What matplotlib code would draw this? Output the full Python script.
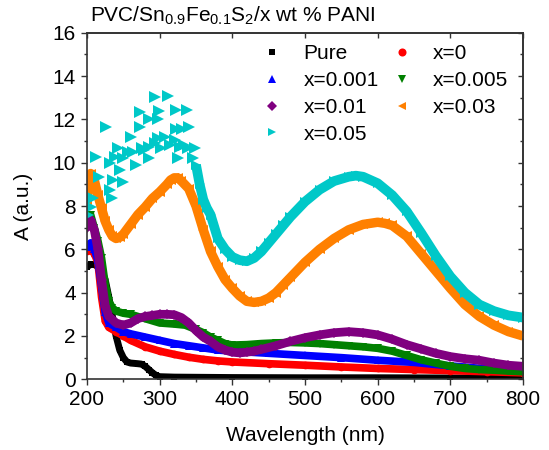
import matplotlib
matplotlib.use("Agg")
import matplotlib.pyplot as plt
from matplotlib.lines import Line2D
from matplotlib.ticker import MultipleLocator

plt.rcParams["font.family"] = ["Liberation Sans", "DejaVu Sans"]
plt.rcParams["mathtext.fontset"] = "custom"
plt.rcParams["mathtext.rm"] = "Liberation Sans"
plt.rcParams["mathtext.it"] = "Liberation Sans"

# ── data ─────────────────────────────────────────────────────────
pure_wl = [200, 205, 210, 215, 220, 225, 230, 235, 240, 245, 250, 255, 260, 270, 275,
           280, 285, 290, 295, 300, 320, 400, 500, 600, 700, 800]
pure_a = [5.2, 5.3, 5.3, 5.2, 5.0, 4.6, 3.8, 2.9, 2.0, 1.35, 1.0, 0.8, 0.75, 0.72, 0.7,
          0.6, 0.45, 0.3, 0.18, 0.12, 0.1, 0.08, 0.07, 0.07, 0.06, 0.06]

x0_wl = [200, 205, 210, 215, 220, 225, 230, 240, 250, 260, 280, 300, 320, 340, 360,
         380, 400, 450, 500, 550, 600, 650, 700, 750, 800]
x0_a = [5.9, 6.0, 5.8, 5.4, 3.8, 2.7, 2.4, 2.2, 2.0, 1.8, 1.5, 1.3, 1.15, 1.02, 0.92,
        0.85, 0.8, 0.72, 0.65, 0.57, 0.5, 0.45, 0.4, 0.35, 0.3]

x001_wl = [200, 205, 210, 215, 220, 225, 230, 240, 250, 260, 280, 300, 320, 340, 360,
           380, 400, 450, 500, 550, 600, 650, 700, 750, 800]
x001_a = [6.1, 6.3, 6.0, 5.5, 4.3, 3.1, 2.6, 2.4, 2.2, 2.1, 1.95, 1.8, 1.65, 1.55, 1.45,
          1.35, 1.3, 1.2, 1.1, 1.0, 0.88, 0.78, 0.62, 0.48, 0.42]

x005_wl = [200, 205, 210, 215, 220, 225, 230, 235, 240, 250, 260, 280, 300, 320, 335,
           350, 360, 370, 380, 390, 400, 420, 440, 460, 480, 500, 520, 540, 560, 580,
           600, 620, 640, 660, 680, 700, 720, 740, 760, 780, 800]
x005_a = [7.3, 7.6, 7.0, 6.4, 5.6, 4.4, 3.6, 3.3, 3.15, 3.05, 3.0, 2.8, 2.6, 2.55, 2.5,
          2.3, 2.15, 1.95, 1.8, 1.65, 1.58, 1.6, 1.65, 1.68, 1.7, 1.68, 1.65, 1.6, 1.55, 1.5,
          1.43, 1.3, 1.1, 0.9, 0.75, 0.6, 0.5, 0.45, 0.42, 0.38, 0.35]

x01_wl = [200, 205, 210, 215, 220, 225, 230, 240, 250, 260, 270, 280, 290, 300, 310,
          320, 330, 340, 350, 360, 370, 380, 390, 400, 410, 420, 430, 440, 460, 480,
          500, 520, 540, 560, 580, 600, 620, 640, 660, 680, 700, 720, 740, 760, 780, 800]
x01_a = [7.0, 7.35, 6.9, 6.0, 4.6, 3.4, 2.9, 2.6, 2.5, 2.6, 2.8, 2.9, 2.95, 3.0, 3.0,
         2.98, 2.85, 2.6, 2.25, 1.95, 1.75, 1.5, 1.35, 1.25, 1.22, 1.25, 1.3, 1.38, 1.55, 1.75,
         1.92, 2.05, 2.15, 2.2, 2.15, 2.05, 1.85, 1.6, 1.4, 1.2, 1.05, 0.95, 0.88, 0.75, 0.65, 0.6]

x03_wl = [200, 205, 210, 215, 220, 225, 230, 235, 240, 245, 250, 260, 270, 280, 290,
          300, 310, 315, 320, 325, 330, 340, 350, 360, 370, 380, 390, 400, 410, 420,
          430, 440, 450, 460, 470, 480, 500, 520, 540, 560, 580, 600, 610, 620, 640,
          660, 680, 700, 720, 740, 760, 780, 800]
x03_a = [8.3, 9.5, 9.2, 8.5, 7.9, 7.3, 6.9, 6.6, 6.5, 6.55, 6.7, 7.15, 7.6, 7.95, 8.35,
         8.65, 9.0, 9.2, 9.3, 9.3, 9.15, 8.8, 8.0, 6.9, 5.9, 5.2, 4.6, 4.2, 3.85, 3.6,
         3.55, 3.6, 3.75, 4.0, 4.35, 4.7, 5.4, 6.0, 6.5, 6.9, 7.15, 7.25, 7.2, 7.1, 6.6,
         5.8, 5.0, 4.2, 3.45, 2.9, 2.5, 2.2, 2.0]

# x=0.05: noisy cloud below ~350 nm, smooth band after
x05_cloud_wl = [201, 206, 208, 213, 217, 226, 231, 231, 234, 236, 238, 243, 245, 250,
                250, 256, 261, 263, 268, 273, 273, 275, 279, 285, 286, 286, 294, 294,
                298, 298, 299, 302, 308, 311, 314, 321, 322, 323, 325, 328, 331, 334,
                337, 339, 341, 346, 348]
x05_cloud_a = [7.6, 7.97, 8.36, 10.28, 9.35, 11.66, 9.97, 8.74, 8.36, 9.2, 10.28, 10.66,
               9.66, 10.2, 9.12, 10.5, 11.2, 10.5, 9.9, 12.35, 11.66, 10.66, 10.6, 12.0,
               10.2, 10.74, 13.05, 10.9, 12.0, 11.13, 12.4, 10.66, 11.2, 13.1, 10.82,
               11.05, 12.43, 11.55, 10.2, 10.74, 11.54, 10.82, 12.43, 10.66, 11.66, 10.2,
               10.66]
x05_wl = [350, 355, 360, 365, 370, 380, 390, 400, 410, 420, 430, 440, 450, 460, 470,
          480, 500, 520, 540, 560, 570, 580, 600, 620, 640, 660, 680, 700, 720, 740,
          760, 780, 800]
x05_a = [9.9, 9.0, 8.3, 7.9, 7.6, 6.5, 6.0, 5.65, 5.5, 5.45, 5.6, 5.9, 6.3, 6.7, 7.1,
         7.5, 8.2, 8.75, 9.15, 9.35, 9.4, 9.35, 9.05, 8.5, 7.75, 6.75, 5.7, 4.75, 4.0, 3.45,
         3.15, 2.95, 2.85]

labels = ["Pure", "x=0", "x=0.001", "x=0.005", "x=0.01", "x=0.03", "x=0.05"]
colors = ["black", "#ff0000", "#0000ff", "#008000", "#800080", "#ff8000", "#00c8c8"]
markers = ["s", "o", "^", "v", "D", "<", ">"]

fig = plt.figure(figsize=(5.49, 4.5), dpi=100)
ax = fig.add_axes([87 / 549, 1 - 379.3 / 450, 436 / 549, 346.6 / 450])

series = [(pure_wl, pure_a, 5.0), (x0_wl, x0_a, 5.5), (x001_wl, x001_a, 5.5),
          (x005_wl, x005_a, 5.5), (x01_wl, x01_a, 6.3), (x03_wl, x03_a, 6.8),
          (x05_wl, x05_a, 7.0)]
for (wl, a, lw), c, m in zip(series, colors, markers):
    ms = lw * (0.8 if m == "D" else 1.0)
    ax.plot(wl, a, color=c, lw=lw, marker=m, ms=ms, mew=0,
            solid_joinstyle="round", solid_capstyle="butt")
ax.plot(x05_cloud_wl, x05_cloud_a, ls="none", marker=">", ms=8.5, mew=0, color=colors[6])

ax.set_xlim(200, 800)
ax.set_ylim(0, 16)
ax.xaxis.set_major_locator(MultipleLocator(100))
ax.xaxis.set_minor_locator(MultipleLocator(50))
ax.yaxis.set_major_locator(MultipleLocator(2))
ax.yaxis.set_minor_locator(MultipleLocator(1))
ax.tick_params(which="both", direction="out", labelsize=15, width=1.0, color="#333333")
ax.tick_params(which="major", length=4.5)
ax.tick_params(which="minor", length=2.5)
for sp in ax.spines.values():
    sp.set_linewidth(1.2)
    sp.set_color("#333333")

top = ax.secondary_xaxis("top")
top.xaxis.set_major_locator(MultipleLocator(100))
top.tick_params(direction="in", length=3.5, width=1.0, labeltop=False, color="#333333")
right = ax.secondary_yaxis("right")
right.yaxis.set_major_locator(MultipleLocator(2))
right.yaxis.set_minor_locator(MultipleLocator(1))
right.tick_params(which="both", direction="in", width=1.0, labelright=False, color="#333333")
right.tick_params(which="major", length=3.5)
right.tick_params(which="minor", length=2.5)
for s in (top, right):
    for sp in s.spines.values():
        sp.set_linewidth(1.2)
        sp.set_color("#333333")

ax.set_xlabel("Wavelength (nm)", fontsize=15, labelpad=12)
ax.set_ylabel("A (a.u.)", fontsize=15, labelpad=14)

fig.text(90 / 549, 1 - 22 / 450, r"PVC/Sn$_{0.9}$Fe$_{0.1}$S$_{2}$/x wt % PANI",
         fontsize=15, va="baseline", ha="left")

handles = [Line2D([], [], ls="none", marker=m, color=c,
                  ms=(4.6 if m == "D" else 4.8 if m == "s" else 5.8), mew=0)
           for m, c in zip(markers, colors)]
order = [0, 2, 4, 6, 1, 3, 5]
ax.legend([handles[i] for i in order], [labels[i] for i in order], ncol=2,
          loc="upper left", bbox_to_anchor=(262 / 549, 1 - 44 / 450),
          bbox_transform=fig.transFigure, frameon=False, fontsize=15,
          handlelength=1.0, handletextpad=1.0, columnspacing=0.6,
          labelspacing=0.38, borderpad=0, borderaxespad=0)

fig.savefig("out.png", dpi=100)
